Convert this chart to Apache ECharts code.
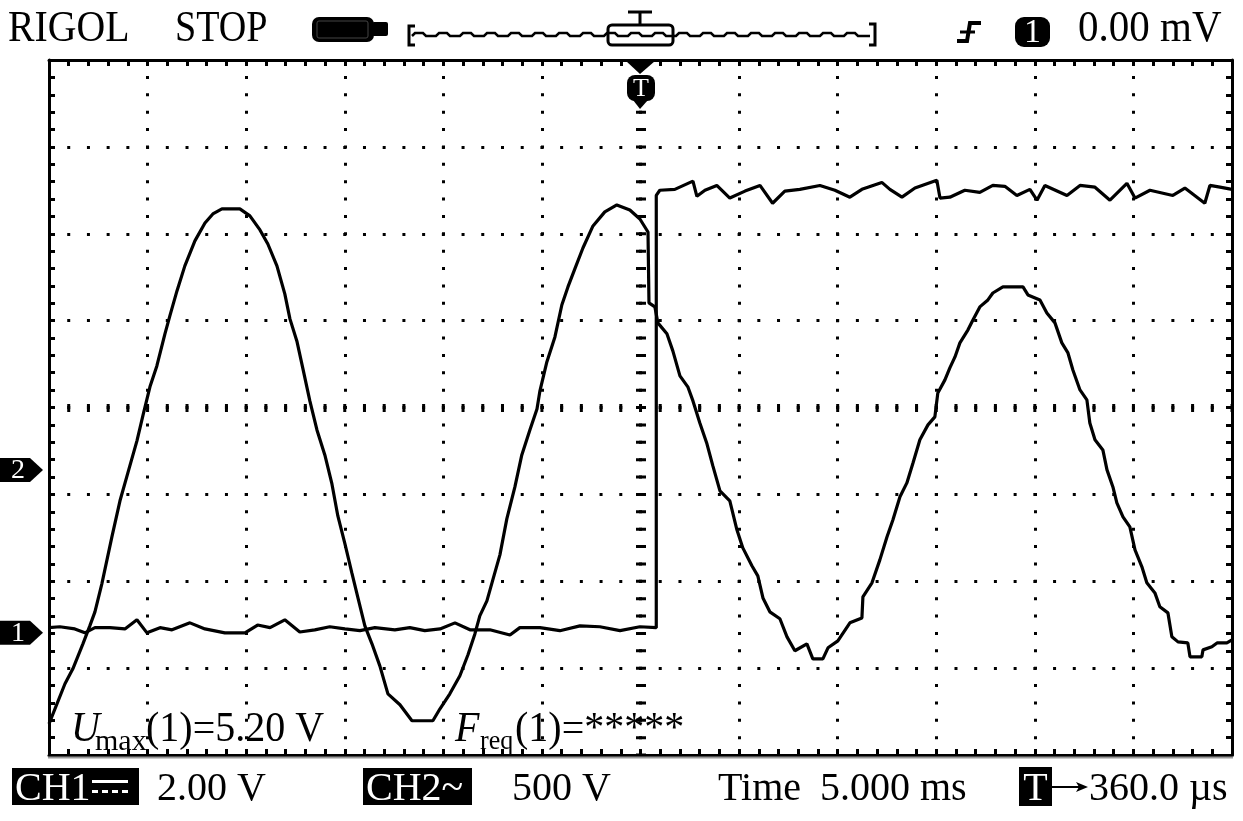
<!DOCTYPE html>
<html><head><meta charset="utf-8">
<script src="https://cdn.jsdelivr.net/npm/echarts@6/dist/echarts.min.js"></script>
<style>html,body{margin:0;padding:0;background:#fff}#c{width:1243px;height:821px}</style>
</head><body><div id="c"></div>
<script>
// ---- Data (time in ms, voltages in V) ----
const ch2Time = [-30.00,-29.19,-28.79,-28.28,-27.93,-27.67,-27.32,-26.81,-26.40,-26.00,
 -25.54,-25.24,-24.88,-24.53,-24.12,-23.87,-23.51,-23.11,-22.60,-22.09,
 -21.69,-21.23,-20.32,-19.81,-19.30,-18.90,-18.44,-18.04,-17.78,-17.43,
 -17.12,-16.77,-16.41,-16.01,-15.65,-15.35,-14.99,-14.64,-14.33,-13.98,
 -13.62,-13.22,-12.81,-12.20,-11.59,-10.53,-10.17,-9.67,-9.16,-8.75,
 -8.40,-8.15,-7.79,-7.49,-7.13,-6.78,-6.37,-6.02,-5.61,-5.25,
 -5.10,-4.75,-4.34,-3.99,-3.68,-3.33,-2.92,-2.41,-1.81,-1.20,
 -0.54,-0.03,0.38,0.43,0.73,0.88,1.34,1.64,2.00,2.40,
 2.66,3.01,3.37,3.67,4.03,4.53,4.89,5.19,5.65,5.95,
 6.21,6.56,7.07,7.43,7.83,8.44,8.74,9.25,9.51,10.01,
 10.62,11.23,11.28,11.74,12.14,12.50,12.80,13.16,13.51,13.82,
 14.17,14.58,14.93,15.08,15.44,15.69,15.95,16.20,16.61,16.86,
 17.21,17.62,17.87,18.38,19.40,19.65,20.26,20.61,21.02,21.37,
 21.68,21.93,22.29,22.64,22.79,23.05,23.45,23.66,23.96,24.16,
 24.47,24.82,25.08,25.43,25.68,26.09,26.34,26.75,26.95,27.26,
 27.76,27.87,28.47,28.53,28.98,29.24,29.74,30.00];
const ch2Volts = [-1462,-1231,-1145,-1001,-898,-817,-656,-386,-178,-17,
 167,311,478,598,783,886,1030,1174,1318,1421,
 1473,1502,1502,1462,1381,1300,1174,1013,869,742,
 581,397,230,86,-81,-265,-426,-593,-737,-898,
 -1001,-1128,-1289,-1352,-1444,-1444,-1375,-1289,-1185,-1064,
 -944,-840,-754,-633,-489,-282,-98,86,230,351,
 455,621,765,949,1053,1157,1277,1404,1485,1525,
 1496,1444,1369,961,938,846,783,685,541,478,
 397,270,150,23,-121,-178,-345,-449,-552,-610,
 -737,-817,-857,-961,-1041,-1001,-1088,-1088,-1024,-984,
 -880,-852,-731,-650,-518,-386,-288,-155,-75,40,
 173,259,305,443,518,587,650,731,806,863,
 938,978,1018,1053,1053,1007,978,903,846,731,
 673,575,460,403,270,173,115,0,-98,-190,
 -270,-328,-460,-558,-650,-708,-788,-823,-961,-990,
 -996,-1076,-1076,-1036,-1018,-996,-996,-979];
const ch1Time = [-30.00,-29.45,-28.69,-28.18,-27.67,-26.91,-26.15,-25.54,-25.03,-24.37,
 -23.76,-22.85,-22.09,-21.08,-20.06,-19.42,-18.79,-18.04,-17.28,-16.52,
 -15.76,-14.99,-14.23,-13.47,-12.46,-11.70,-10.94,-10.17,-9.41,-8.65,
 -7.64,-6.62,-6.12,-5.10,-4.09,-3.07,-2.06,-1.04,-0.03,0.80,
 0.80,0.98,1.74,2.66,2.86,3.27,3.87,4.53,5.30,6.06,
 6.70,7.32,8.08,9.10,9.86,10.62,11.23,12.24,12.65,13.26,
 13.92,15.03,15.19,15.69,16.45,17.21,17.87,18.48,19.09,19.75,
 20.11,20.51,21.63,22.29,23.05,23.81,24.67,25.08,25.84,27.00,
 27.61,28.62,28.88,29.39,30.00];
const ch1Volts = [0.12,0.14,0.09,0.00,0.12,0.12,0.09,0.30,0.00,0.12,
 0.07,0.23,0.09,0.00,0.00,0.18,0.12,0.30,0.02,0.07,
 0.14,0.09,0.05,0.12,0.07,0.12,0.05,0.09,0.23,0.07,
 0.07,-0.05,0.12,0.12,0.05,0.16,0.14,0.05,0.14,0.12,
 10.07,10.19,10.21,10.40,10.05,10.19,10.30,10.01,10.17,10.30,
 9.89,10.17,10.21,10.30,10.19,10.03,10.21,10.37,10.21,10.03,
 10.24,10.42,10.01,10.03,10.19,10.14,10.30,10.28,10.07,10.21,
 9.96,10.30,10.07,10.30,10.26,9.96,10.35,10.01,10.19,10.07,
 10.24,9.89,10.30,10.26,10.21];

// channel settings
const ch1VoltsPerDiv = 2;     // CH1 2.00 V/div
const ch2VoltsPerDiv = 500;   // CH2 500 V/div
const ch1OffsetDiv = -2.594;  // ground marker position (divisions from centre)
const ch2OffsetDiv = -0.718;
const timePerDiv = 5;         // ms/div
const timeMin = -30, timeMax = 30;
const divMin = -4, divMax = 4;

// texts
const headerTexts = { brand: 'RIGOL', state: 'STOP', trigLevel: '0.00 mV', trigSrc: '1' };
const footerTexts = { ch1: 'CH1', ch1Scale: '2.00 V', ch2: 'CH2~', ch2Scale: '500 V',
  timeLabel: 'Time', timeScale: '5.000 ms', trigT: 'T', trigPos: '360.0 µs' };
const measureTexts = { u: 'U', uSub: 'max', uRest: '(1)=5.20 V', f: 'F', fSub: 'req', fRest: '(1)=*****' };

const ch1Data = ch1Time.map((t, i) => [t, ch1Volts[i] / ch1VoltsPerDiv + ch1OffsetDiv]);
const ch2Data = ch2Time.map((t, i) => [t, ch2Volts[i] / ch2VoltsPerDiv + ch2OffsetDiv]);

const SERIF = '"Liberation Serif","DejaVu Serif",serif';
const chart = echarts.init(document.getElementById('c'), null, {renderer: 'canvas'});

const axisCommon = {
  type: 'value', min: timeMin, max: timeMax, interval: timePerDiv,
  axisLine: {show: true, onZero: false, lineStyle: {color: '#000', width: 3}},
  axisTick: {show: true, inside: true, length: 6, lineStyle: {color: '#000', width: 3}},
  minorTick: {show: true, splitNumber: 5, length: 6, lineStyle: {color: '#000', width: 3}},
  axisLabel: {show: false}
};
const yCommon = Object.assign({}, axisCommon, {min: divMin, max: divMax, interval: 1});

function txt(text, x, y, size, opts) {
  opts = opts || {};
  return {type: 'text', x: x, y: y, z: 100, silent: true,
    scaleX: opts.scaleX || 1, scaleY: opts.scaleY || 1,
    style: {text: text, font: (opts.italic ? 'italic ' : '') + (opts.bold ? 'bold ' : '') + size + 'px ' + SERIF,
      fill: opts.fill || '#000', align: opts.align || 'left', verticalAlign: 'middle'}};
}

function buildGraphics() {
  const g = [];
  // header
  g.push(txt(headerTexts.brand, 8, 30, 41, {scaleX: 0.97, scaleY: 1.06}));
  g.push(txt(headerTexts.state, 175, 30, 41, {scaleX: 0.93, scaleY: 1.06}));
  // battery-like icon
  g.push({type: 'rect', z: 100, shape: {x: 312, y: 17, width: 62, height: 25, r: 7}, style: {fill: '#000'}});
  g.push({type: 'rect', z: 101, shape: {x: 317, y: 21, width: 51, height: 17, r: 2}, style: {fill: null, stroke: '#444', lineWidth: 1}});
  g.push({type: 'rect', z: 100, shape: {x: 372, y: 22, width: 16, height: 14, r: 2}, style: {fill: '#000'}});
  // memory bar
  g.push({type: 'polyline', z: 100, shape: {points: [[415, 26], [409, 26], [409, 45], [415, 45]]}, style: {stroke: '#000', lineWidth: 3, fill: null}});
  g.push({type: 'polyline', z: 100, shape: {points: [[869, 24], [875, 24], [875, 45], [869, 45]]}, style: {stroke: '#000', lineWidth: 3, fill: null}});
  const wave = [];
  for (let x = 412; x <= 868; x += 24) {
    wave.push([x, 36], [x + 3, 33], [x + 11, 33], [x + 14, 36]);
  }
  wave.push([870, 36]);
  g.push({type: 'polyline', z: 100, shape: {points: wave.filter(p => p[0] <= 870)}, style: {stroke: '#000', lineWidth: 2.5, fill: null}});
  g.push({type: 'rect', z: 101, shape: {x: 608, y: 25, width: 65, height: 20, r: 4}, style: {fill: null, stroke: '#000', lineWidth: 3}});
  g.push({type: 'line', z: 101, shape: {x1: 628, y1: 12, x2: 652, y2: 12}, style: {stroke: '#000', lineWidth: 3}});
  g.push({type: 'line', z: 101, shape: {x1: 640, y1: 12, x2: 640, y2: 25}, style: {stroke: '#000', lineWidth: 3}});
  // trigger edge symbol
  g.push({type: 'polyline', z: 100, shape: {points: [[957, 41], [967, 41], [970, 23], [981, 23]]}, style: {stroke: '#000', lineWidth: 4, fill: null}});
  g.push({type: 'line', z: 100, shape: {x1: 960, y1: 32, x2: 975, y2: 32}, style: {stroke: '#000', lineWidth: 3}});
  // trigger source box
  g.push({type: 'rect', z: 100, shape: {x: 1015, y: 17, width: 35, height: 30, r: 9}, style: {fill: '#000'}});
  g.push(txt(headerTexts.trigSrc, 1032.5, 33, 34, {fill: '#fff', align: 'center'}));
  g.push(txt(headerTexts.trigLevel, 1078, 30, 41, {scaleY: 1.06}));

  // trigger position marker under top border
  g.push({type: 'polygon', z: 100, shape: {points: [[626, 61], [655, 61], [640, 74]]}, style: {fill: '#000'}});
  g.push({type: 'rect', z: 100, shape: {x: 627, y: 75, width: 28, height: 26, r: 8}, style: {fill: '#000'}});
  g.push(txt('T', 641, 89, 26, {fill: '#fff', align: 'center'}));
  g.push({type: 'polygon', z: 100, shape: {points: [[633, 100], [648, 100], [640, 109]]}, style: {fill: '#000'}});

  // channel ground markers on the left
  const y1 = chart.convertToPixel({yAxisIndex: 0}, ch1OffsetDiv);
  const y2 = chart.convertToPixel({yAxisIndex: 0}, ch2OffsetDiv);
  [[y2, '2'], [y1, '1']].forEach(function (m) {
    const y = m[0];
    g.push({type: 'polygon', z: 100, shape: {points: [[0, y - 12], [30, y - 12], [43, y], [30, y + 12], [0, y + 12]]}, style: {fill: '#000'}});
    g.push(txt(m[1], 18, y + 1, 28, {fill: '#fff', align: 'center'}));
  });

  // light shadow line below the screen
  g.push({type: 'line', z: 100, shape: {x1: 48, y1: 757.5, x2: 1233, y2: 757.5}, style: {stroke: '#9a9a9a', lineWidth: 2}});

  // measurements inside the screen
  g.push(txt(measureTexts.u, 71, 730, 40, {italic: true, scaleY: 1.06}));
  g.push(txt(measureTexts.uSub, 95, 742, 30));
  g.push(txt(measureTexts.uRest, 146, 730, 40, {scaleY: 1.06}));
  g.push(txt(measureTexts.f, 455, 730, 40, {italic: true, scaleY: 1.06}));
  g.push(txt(measureTexts.fSub, 480, 742, 28, {scaleX: 0.93}));
  g.push(txt(measureTexts.fRest, 515, 730, 40, {scaleY: 1.06}));

  // footer
  g.push({type: 'rect', z: 100, shape: {x: 12, y: 768, width: 127, height: 37}, style: {fill: '#000'}});
  g.push(txt(footerTexts.ch1, 15, 789.5, 40, {fill: '#fff'}));
  g.push({type: 'rect', z: 101, shape: {x: 92, y: 780, width: 36, height: 3}, style: {fill: '#fff'}});
  [92, 102, 112, 122].forEach(function (x) {
    g.push({type: 'rect', z: 101, shape: {x: x, y: 790, width: 6, height: 3}, style: {fill: '#fff'}});
  });
  g.push(txt(footerTexts.ch1Scale, 157, 789.5, 40));
  g.push({type: 'rect', z: 100, shape: {x: 363, y: 768, width: 109, height: 37}, style: {fill: '#000'}});
  g.push(txt(footerTexts.ch2, 366, 789.5, 40, {fill: '#fff'}));
  g.push(txt(footerTexts.ch2Scale, 512, 789.5, 40));
  g.push(txt(footerTexts.timeLabel, 718, 789.5, 40));
  g.push(txt(footerTexts.timeScale, 820, 789.5, 40));
  g.push({type: 'rect', z: 100, shape: {x: 1019, y: 767, width: 33, height: 39}, style: {fill: '#000'}});
  g.push(txt(footerTexts.trigT, 1035.5, 789.5, 40, {fill: '#fff', align: 'center'}));
  g.push({type: 'line', z: 100, shape: {x1: 1052, y1: 787, x2: 1080, y2: 787}, style: {stroke: '#000', lineWidth: 2}});
  g.push({type: 'polygon', z: 100, shape: {points: [[1076, 782], [1088, 787], [1076, 792], [1079, 787]]}, style: {fill: '#000'}});
  g.push(txt(footerTexts.trigPos, 1089, 789.5, 40));
  return g;
}

const option = {
  animation: false,
  backgroundColor: '#fff',
  grid: {left: 49, right: 11, top: 60, bottom: 66, containLabel: false},
  xAxis: [
    Object.assign({}, axisCommon, {position: 'bottom',
      splitLine: {show: true, lineStyle: {color: '#000', width: 3, type: [3, 14.375], dashOffset: 1.5}}}),
    Object.assign({}, axisCommon, {position: 'top', splitLine: {show: false}})
  ],
  yAxis: [
    Object.assign({}, yCommon, {position: 'left',
      splitLine: {show: true, lineStyle: {color: '#000', width: 3, type: [3, 16.717], dashOffset: 1.5}}}),
    Object.assign({}, yCommon, {position: 'right', splitLine: {show: false}})
  ],
  series: [
    {name: 'CH1', type: 'line', data: ch1Data, showSymbol: false, symbol: 'none',
      lineStyle: {color: '#000', width: 3.2}, z: 5,
      markLine: {silent: true, symbol: ['none', 'none'], label: {show: false}, animation: false,
        data: [
          {xAxis: 0, lineStyle: {color: '#000', width: 10, type: [3, 14.375], dashOffset: 1.5}},
          {yAxis: 0, lineStyle: {color: '#000', width: 8, type: [3, 16.717], dashOffset: 1.5}}
        ]}},
    {name: 'CH2', type: 'line', data: ch2Data, showSymbol: false, symbol: 'none',
      lineStyle: {color: '#000', width: 3.2}, z: 5}
  ]
};
chart.setOption(option);
chart.setOption({graphic: buildGraphics()});
</script></body></html>
